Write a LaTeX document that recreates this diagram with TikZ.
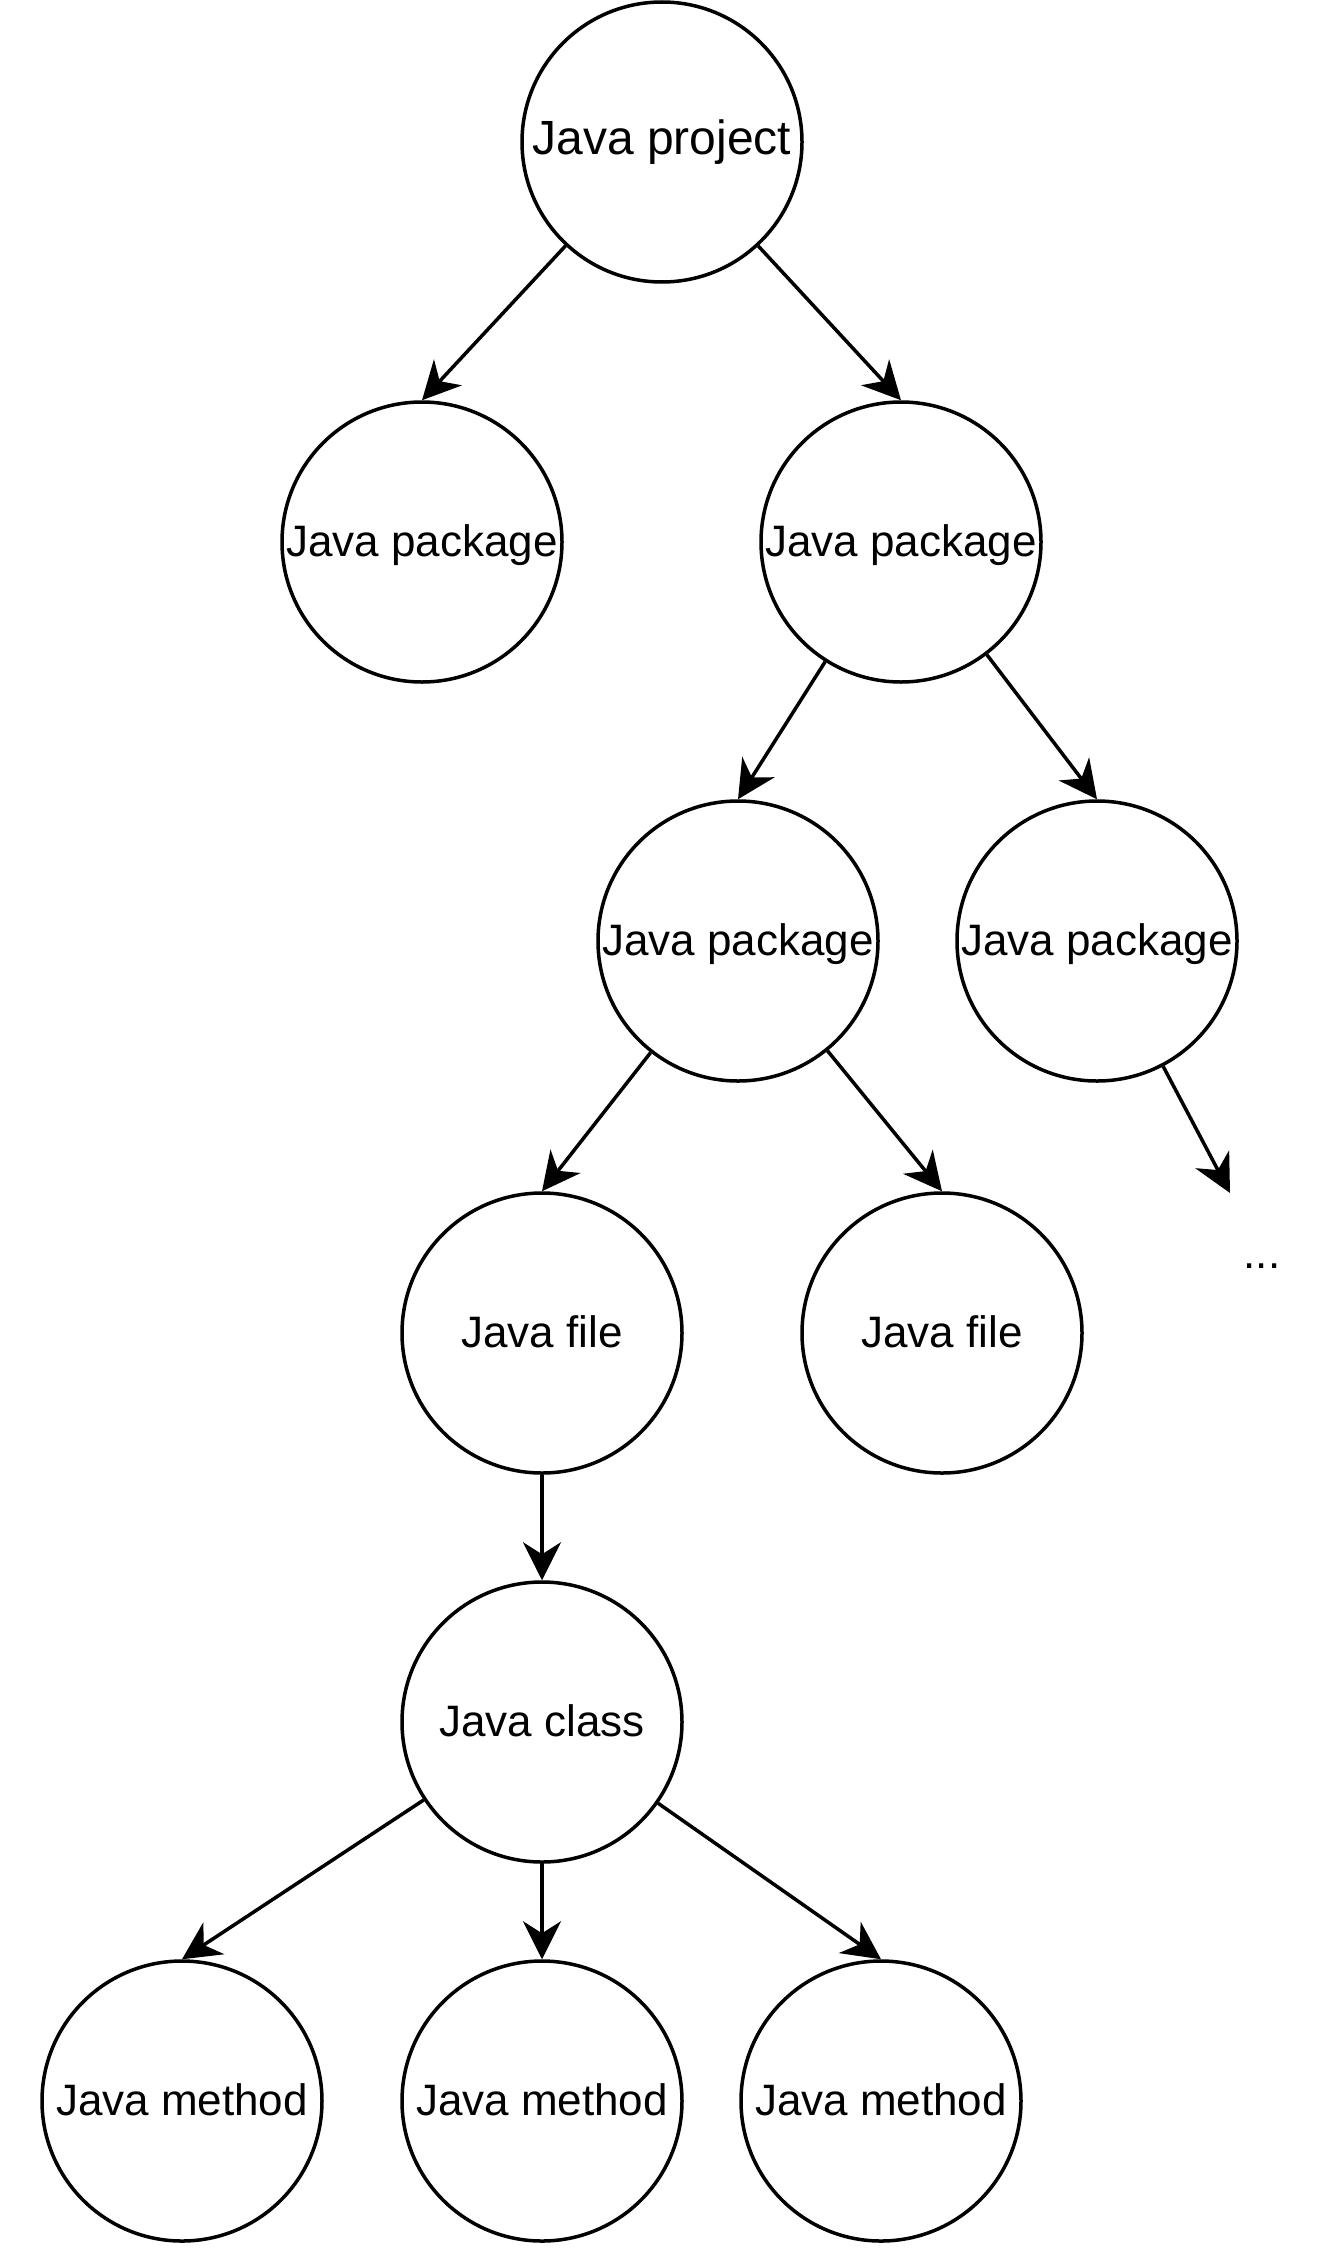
\documentclass[tikz,border=0pt]{standalone}
\usepackage{fontspec}
\setmainfont{Liberation Sans}
\usetikzlibrary{arrows.meta}
\tikzset{
  circ/.style={draw=black, line width=1.75pt, fill=white, shape=circle,
    minimum size=140pt, inner sep=0pt, text height=14pt, text depth=0pt,
    font=\fontsize{22pt}{26pt}\selectfont},
  bigcirc/.style={circ, text height=13pt, font=\fontsize{24pt}{28pt}\selectfont},
  arr/.style={line width=1.75pt, -{Stealth[length=19pt,width=19pt,inset=6pt]}},
  dots/.style={font=\fontsize{22pt}{26pt}\selectfont, inner sep=0pt, anchor=base}
}
\begin{document}
\begin{tikzpicture}[x=0.5pt,y=-0.5pt]
\useasboundingbox[fill=white] (0,0) rectangle (1320,2248);
\node[bigcirc] (proj) at (662,142) {Java project};
\node[circ] (pkgL) at (422,542) {Java package};
\node[circ] (pkgR) at (901,542) {Java package};
\node[circ] (pkgRL) at (738,941) {Java package};
\node[circ] (pkgRR) at (1097,941) {Java package};
\node[circ] (fileL) at (542,1333) {Java file};
\node[circ] (fileR) at (942,1333) {Java file};
\node[circ] (cls) at (542,1722) {Java class};
\node[circ] (m1) at (182,2101) {Java method};
\node[circ] (m2) at (542,2101) {Java method};
\node[circ] (m3) at (881,2101) {Java method};
\node[dots] (more) at (1262,1268) {...};
\coordinate (moreend) at (1230,1193);

\draw[arr] (proj) -- (pkgL.north);
\draw[arr] (proj) -- (pkgR.north);
\draw[arr] (pkgR) -- (pkgRL.north);
\draw[arr] (pkgR) -- (pkgRR.north);
\draw[arr] (pkgRR) -- (moreend);
\draw[arr] (pkgRL) -- (fileL.north);
\draw[arr] (pkgRL) -- (fileR.north);
\draw[arr] (fileL) -- (cls.north);
\draw[arr] (cls) -- (m1.north);
\draw[arr] (cls) -- (m2.north);
\draw[arr] (cls) -- (m3.north);
\end{tikzpicture}
\end{document}
